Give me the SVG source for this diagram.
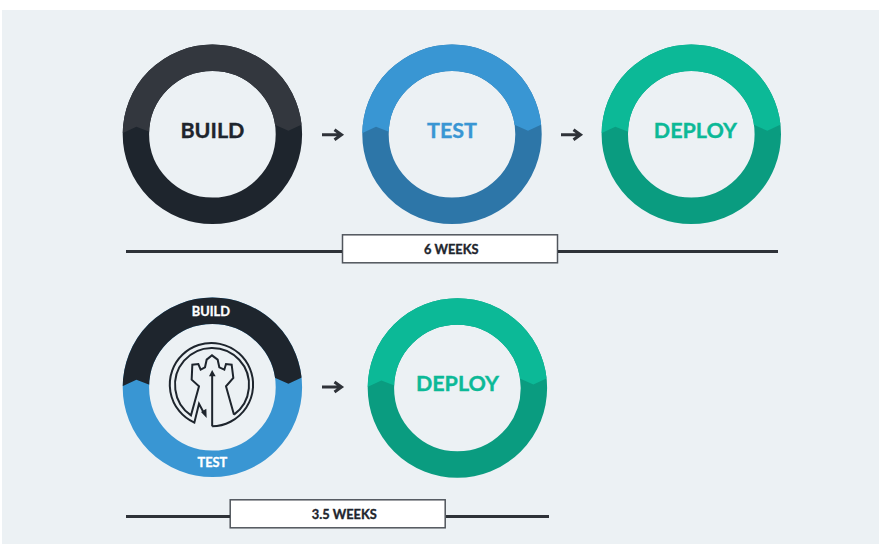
<svg xmlns="http://www.w3.org/2000/svg" width="879" height="544" viewBox="0 0 879 544">
<style>
.ring{fill:none;stroke-width:26.4}
.t{font-family:Lato,"Liberation Sans",sans-serif;font-weight:700;text-anchor:middle;stroke-width:.35;paint-order:stroke}
.big{font-size:21.5px}
.sm{font-size:12.8px}
.rule{stroke:#2e3238;stroke-width:3;fill:none}
.box{fill:#fff;stroke:#50555c;stroke-width:1.5}
.arr{stroke:#2e3238;stroke-width:3;fill:none}
.ic{fill:none;stroke:#1e252d;stroke-width:6;stroke-linejoin:miter}
</style>
<defs>
<clipPath id="top"><polygon points="-95,-1 -90,-1 -76,-7.6 -63,-2.6 63,-9.3 76,-3.6 90,-10 95,-12 95,-100 -95,-100"/></clipPath>
<path id="arrow" d="M0 0H19.5M12.5 -5L19.5 0L12.5 5"/>
</defs>
<rect x="2" y="10" width="877" height="534" fill="#ecf1f4"/>
<g id="build" transform="translate(212.4 134.3)">
<circle class="ring" r="76.5" stroke="#1e252d"/>
<circle class="ring" r="76.5" stroke="#33373e" clip-path="url(#top)"/>
<text class="t big" x="0" y="3.6" fill="#1e252d" stroke="#1e252d">BUILD</text>
</g>
<g id="test" transform="translate(452 134.3)">
<circle class="ring" r="76.5" stroke="#2d76a8"/>
<circle class="ring" r="76.5" stroke="#3996d3" clip-path="url(#top)"/>
<text class="t big" x="0" y="3.6" fill="#3996d3" stroke="#3996d3">TEST</text>
</g>
<g id="deploy" transform="translate(691.3 134.3)">
<circle class="ring" r="76.5" stroke="#0a9c80"/>
<circle class="ring" r="76.5" stroke="#0cb997" clip-path="url(#top)"/>
<text class="t big" x="4" y="3.6" fill="#0cb997" stroke="#0cb997">DEPLOY</text>
</g>
<g id="weeks6">
<rect class="box" x="342.5" y="234.8" width="215" height="28"/>
<text class="t sm" x="451.3" y="253.5" fill="#1e252d" stroke="#1e252d">6 WEEKS</text>
</g>
<g id="buildtest" transform="translate(212.4 387.3)">
<circle class="ring" r="76.5" stroke="#3996d3"/>
<circle class="ring" r="76.5" stroke="#1e252d" clip-path="url(#top)"/>
<text class="t sm" x="-1.5" y="-71" fill="#fff" stroke="#fff">BUILD</text>
<text class="t sm" x="0" y="80" fill="#fff" stroke="#fff">TEST</text>
<g transform="translate(-47.4 -49.3) scale(.3333)">
<path class="ic" d="M141.5 265A125 125 0 1 0 88 254L102 197L118 227"/>
<path class="ic" d="M207 230L183 145L205 120L200 80L183 78L178 95L163 88L158 65L141 52L125 65L120 88L107 95L100 78L82 80L80 125L102 145L78 232A111 111 0 1 1 207 230"/>
<path class="ic" d="M141.500 265V112"/>
<polygon points="132,115 141.500,96 152,115" fill="#1e252d"/>
<polygon points="108,222 124,212 125,240" fill="#1e252d"/>
</g>
</g>
<g id="deploy2" transform="translate(457.4 388)">
<circle class="ring" r="76.5" stroke="#0a9c80"/>
<circle class="ring" r="76.5" stroke="#0cb997" clip-path="url(#top)"/>
<text class="t big" x="0" y="2.6" fill="#0cb997" stroke="#0cb997">DEPLOY</text>
</g>
<g id="weeks35">
<rect class="box" x="230.2" y="499.8" width="215" height="28"/>
<text class="t sm" x="344.3" y="518.5" fill="#1e252d" stroke="#1e252d">3.5 WEEKS</text>
</g>
<g id="connectors">
<use href="#arrow" class="arr" x="322" y="134.7"/>
<use href="#arrow" class="arr" x="561" y="134.7"/>
<use href="#arrow" class="arr" x="322" y="387"/>
<path class="rule" d="M126 251.5H342M558 251.5H778M126 516.5H230M446 516.5H549"/>
</g>
</svg>
